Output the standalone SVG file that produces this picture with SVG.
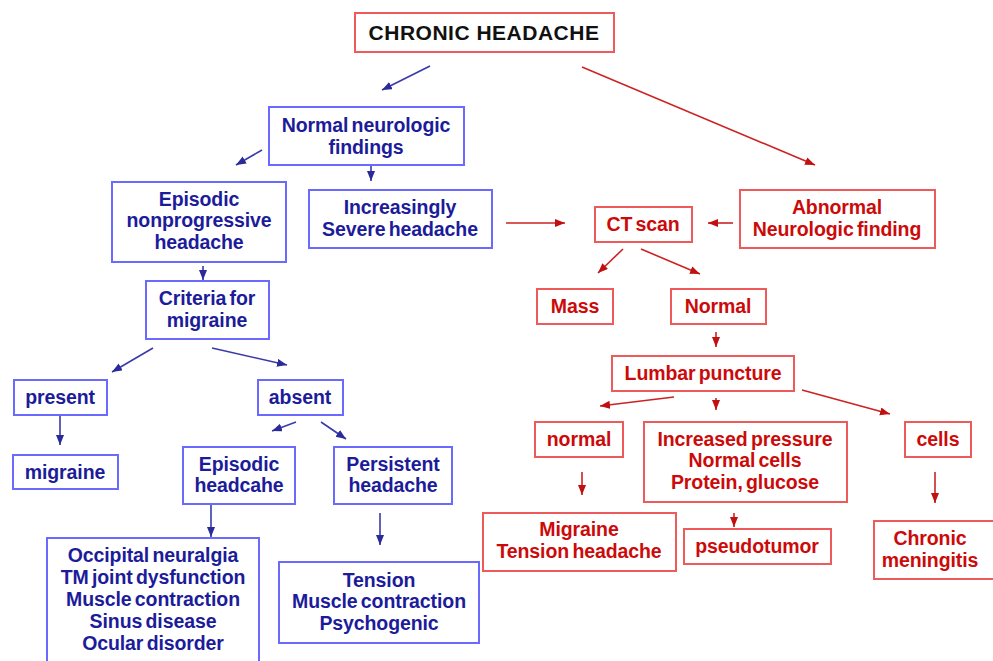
<svg xmlns="http://www.w3.org/2000/svg" width="993" height="661" viewBox="0 0 993 661">
<defs>
<style>
text{font-family:"Liberation Sans",Arial,sans-serif;font-weight:bold;text-anchor:middle;font-size:19.5px;letter-spacing:-0.1px;word-spacing:-2px}
.b rect{fill:#fff;stroke:#6a6aff;stroke-width:2}
.b text{fill:#1c1c9a}
.r rect{fill:#fff;stroke:#ee5a5a;stroke-width:2}
.r text{fill:#cc0a0a}
.bl{stroke:#3a3aaa;stroke-width:1.6;fill:none;marker-end:url(#ab)}
.rl{stroke:#cc2222;stroke-width:1.6;fill:none;marker-end:url(#ar)}
</style>
<marker id="ab" markerUnits="userSpaceOnUse" markerWidth="12" markerHeight="10" refX="10" refY="4" orient="auto"><path d="M0,0 L10,4 L0,8 z" fill="#2a2a9a"/></marker>
<marker id="ar" markerUnits="userSpaceOnUse" markerWidth="12" markerHeight="10" refX="10" refY="4" orient="auto"><path d="M0,0 L10,4 L0,8 z" fill="#c01010"/></marker>
</defs>
<rect width="993" height="661" fill="#fff"/>

<g id="connectors">
<line class="bl" x1="430" y1="66" x2="382" y2="90"/>
<line class="rl" x1="582" y1="67" x2="815" y2="165"/>
<line class="bl" x1="262" y1="150" x2="236" y2="165"/>
<line class="bl" x1="371" y1="165" x2="371" y2="181"/>
<line class="bl" x1="203" y1="266" x2="203" y2="280"/>
<line class="bl" x1="153" y1="348" x2="112" y2="372"/>
<line class="bl" x1="212" y1="348" x2="287" y2="365"/>
<line class="bl" x1="60" y1="415" x2="60" y2="445"/>
<line class="bl" x1="296" y1="422" x2="272" y2="431"/>
<line class="bl" x1="321" y1="422" x2="346" y2="439"/>
<line class="bl" x1="211" y1="505" x2="211" y2="537"/>
<line class="bl" x1="380" y1="513" x2="380" y2="545"/>
<line class="rl" x1="506" y1="223" x2="565" y2="223"/>
<line class="rl" x1="733" y1="223" x2="708" y2="223"/>
<line class="rl" x1="623" y1="249" x2="598" y2="273"/>
<line class="rl" x1="641" y1="249" x2="700" y2="274"/>
<line class="rl" x1="716" y1="332" x2="716" y2="347"/>
<line class="rl" x1="674" y1="397" x2="600" y2="406"/>
<line class="rl" x1="716" y1="398" x2="716" y2="410"/>
<line class="rl" x1="802" y1="390" x2="890" y2="414"/>
<line class="rl" x1="582" y1="472" x2="582" y2="495"/>
<line class="rl" x1="734" y1="513" x2="734" y2="527"/>
<line class="rl" x1="935" y1="472" x2="935" y2="503"/>
</g>

<g id="chronic" class="r"><rect x="355" y="13" width="259" height="39"/><text x="484" y="40" style="fill:#111;font-size:21px;letter-spacing:0.5px;word-spacing:0">CHRONIC HEADACHE</text></g>

<g id="normal-neuro" class="b"><rect x="269" y="107" width="195" height="58"/><text x="366" y="132">Normal neurologic</text><text x="366" y="154">findings</text></g>
<g id="episodic-np" class="b"><rect x="112" y="182" width="174" height="80"/><text x="199" y="206">Episodic</text><text x="199" y="227">nonprogressive</text><text x="199" y="249">headache</text></g>
<g id="increasingly" class="b"><rect x="309" y="190" width="183" height="58"/><text x="400" y="214">Increasingly</text><text x="400" y="236">Severe headache</text></g>
<g id="criteria" class="b"><rect x="146" y="281" width="123" height="58"/><text x="207" y="305">Criteria for</text><text x="207" y="327">migraine</text></g>
<g id="present" class="b"><rect x="14" y="380" width="93" height="35"/><text x="60" y="404">present</text></g>
<g id="migraine" class="b"><rect x="13" y="455" width="105" height="34"/><text x="65" y="479">migraine</text></g>
<g id="absent" class="b"><rect x="258" y="380" width="85" height="35"/><text x="300" y="404">absent</text></g>
<g id="episodic-h" class="b"><rect x="183" y="447" width="112" height="57"/><text x="239" y="471">Episodic</text><text x="239" y="492">headcahe</text></g>
<g id="persistent" class="b"><rect x="334" y="447" width="118" height="57"/><text x="393" y="471">Persistent</text><text x="393" y="492">headache</text></g>
<g id="occipital" class="b"><rect x="47" y="538" width="212" height="130"/><text x="153" y="562">Occipital neuralgia</text><text x="153" y="584">TM joint dysfunction</text><text x="153" y="606">Muscle contraction</text><text x="153" y="628">Sinus disease</text><text x="153" y="650">Ocular disorder</text></g>
<g id="tension" class="b"><rect x="279" y="562" width="200" height="81"/><text x="379" y="587">Tension</text><text x="379" y="608">Muscle contraction</text><text x="379" y="630">Psychogenic</text></g>

<g id="ctscan" class="r"><rect x="595" y="207" width="97" height="35"/><text x="643" y="231">CT scan</text></g>
<g id="abnormal" class="r"><rect x="740" y="190" width="195" height="58"/><text x="837" y="214">Abnormal</text><text x="837" y="236">Neurologic finding</text></g>
<g id="mass" class="r"><rect x="537" y="289" width="76" height="35"/><text x="575" y="313">Mass</text></g>
<g id="normal-ct" class="r"><rect x="671" y="289" width="95" height="35"/><text x="718" y="313">Normal</text></g>
<g id="lumbar" class="r"><rect x="612" y="356" width="182" height="35"/><text x="703" y="380">Lumbar puncture</text></g>
<g id="normal-lp" class="r"><rect x="535" y="422" width="88" height="35"/><text x="579" y="446">normal</text></g>
<g id="increased" class="r"><rect x="644" y="422" width="203" height="80"/><text x="745" y="446">Increased pressure</text><text x="745" y="467">Normal cells</text><text x="745" y="489">Protein, glucose</text></g>
<g id="cells" class="r"><rect x="905" y="422" width="66" height="35"/><text x="938" y="446">cells</text></g>
<g id="migraine-tension" class="r"><rect x="483" y="513" width="193" height="58"/><text x="579" y="536">Migraine</text><text x="579" y="558">Tension headache</text></g>
<g id="pseudotumor" class="r"><rect x="684" y="529" width="147" height="35"/><text x="757" y="553">pseudotumor</text></g>
<g id="meningitis" class="r"><rect x="874" y="521" width="124" height="58"/><text x="930" y="545">Chronic</text><text x="930" y="567">meningitis</text></g>
</svg>
